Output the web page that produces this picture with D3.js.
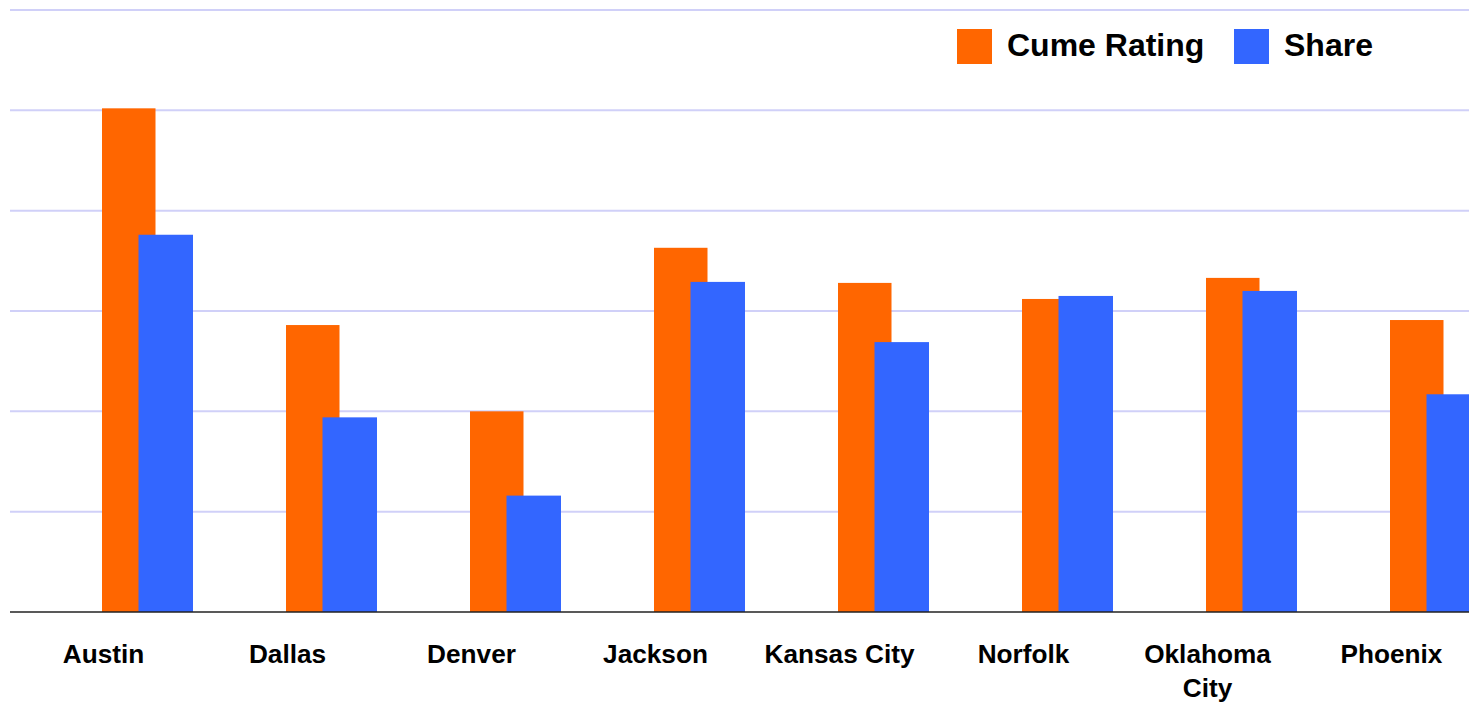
<!DOCTYPE html>
<html>
<head>
<meta charset="utf-8">
<script src="https://cdn.jsdelivr.net/npm/d3@7"></script>
<style>
  html, body { margin: 0; padding: 0; background: #fff; overflow: hidden; }
  svg { display: block; font-family: "Liberation Sans", Arial, sans-serif; }
</style>
</head>
<body>
<svg id="chart" width="1469" height="702"></svg>
<script>
const categories = ["Austin", "Dallas", "Denver", "Jackson", "Kansas City", "Norfolk", "Oklahoma City", "Phoenix"];
const cumeRating = [25.1, 14.3, 10.0, 18.15, 16.4, 15.6, 16.65, 14.55];
const share = [18.8, 9.7, 5.8, 16.45, 13.45, 15.75, 16.0, 10.85];
const seriesNames = ["Cume Rating", "Share"];
const yTicks = [0, 5, 10, 15, 20, 25, 30];

const colors = ["#FF6600", "#3366FF"];
const W = 1469, H = 702;
const svg = d3.select("#chart");

const x = d3.scaleBand().domain(categories).range([11.5, 1483.5]).paddingInner(0).paddingOuter(0);
const y = d3.scaleLinear().domain([0, 30]).range([612, 10]);

// gridlines
svg.append("g").selectAll("line")
  .data(yTicks.filter(t => t > 0))
  .join("line")
  .attr("x1", 10).attr("x2", W)
  .attr("y1", d => y(d)).attr("y2", d => y(d))
  .attr("stroke", "#d0d0f8").attr("stroke-width", 2);

const barW = [53.5, 54.5], overlapOffset = 36.5;
const series = [cumeRating, share];
series.forEach((vals, si) => {
  svg.append("g").selectAll("rect")
    .data(categories.map((c, i) => ({c, v: vals[i]})))
    .join("rect")
    .attr("x", d => x(d.c) + x.bandwidth() / 2 - 1.5 + si * overlapOffset)
    .attr("width", barW[si])
    .attr("y", d => y(d.v))
    .attr("height", d => y(0) - y(d.v))
    .attr("fill", colors[si]);
});

// baseline
svg.append("line")
  .attr("x1", 10).attr("x2", W)
  .attr("y1", y(0)).attr("y2", y(0))
  .attr("stroke", "#222").attr("stroke-width", 1.5);

// x labels with wrapping
const labelG = svg.append("g")
  .attr("font-size", "26.2px").attr("font-weight", "bold").attr("fill", "#000");
categories.forEach(c => {
  const cx = x(c) + x.bandwidth() / 2;
  const t = labelG.append("text")
    .attr("text-anchor", "middle")
    .attr("x", cx)
    .attr("y", 663);
  const words = c.split(" ");
  let line = [];
  let tspan = t.append("tspan").attr("x", cx).attr("dy", 0);
  words.forEach(w => {
    line.push(w);
    tspan.text(line.join(" "));
    if (tspan.node().getComputedTextLength() > x.bandwidth() - 8 && line.length > 1) {
      line.pop();
      tspan.text(line.join(" "));
      line = [w];
      tspan = t.append("tspan").attr("x", cx).attr("dy", 34).text(w);
    }
  });
});

// legend
const legend = svg.append("g").attr("font-size", "32px").attr("font-weight", "bold");
const legendX = [957, 1234];
seriesNames.forEach((n, i) => {
  legend.append("rect").attr("x", legendX[i]).attr("y", 29).attr("width", 35).attr("height", 35).attr("fill", colors[i]);
  legend.append("text").attr("x", legendX[i] + 50).attr("y", 55.5).attr("fill", "#000").text(n);
});
</script>
</body>
</html>
